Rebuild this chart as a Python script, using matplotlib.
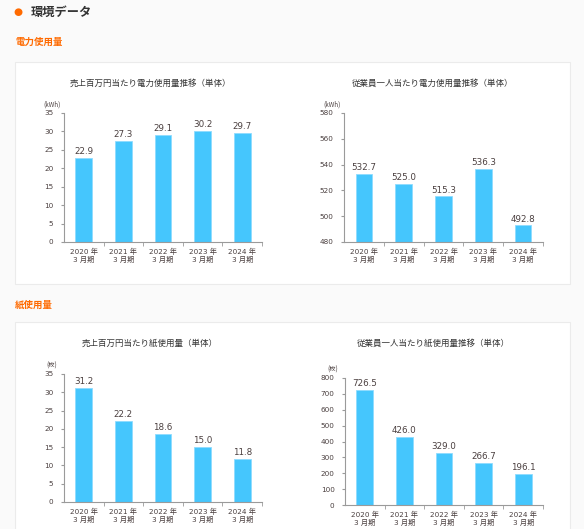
import matplotlib.pyplot as plt
from matplotlib.patches import Rectangle

plt.rcParams['font.family'] = ['Noto Sans CJK JP', 'DejaVu Sans']

W, H = 584, 529

years = ["2020 年\n3 月期", "2021 年\n3 月期", "2022 年\n3 月期", "2023 年\n3 月期", "2024 年\n3 月期"]

power_sales = [22.9, 27.3, 29.1, 30.2, 29.7]
power_staff = [532.7, 525.0, 515.3, 536.3, 492.8]
paper_sales = [31.2, 22.2, 18.6, 15.0, 11.8]
paper_staff = [726.5, 426.0, 329.0, 266.7, 196.1]

titles = ["売上百万円当たり電力使用量推移（単体）", "従業員一人当たり電力使用量推移（単体）",
          "売上百万円当たり紙使用量（単体）", "従業員一人当たり紙使用量推移（単体）"]
units = ["(kWh)", "(kWh)", "(枚)", "(枚)"]

bar_c = "#45c6fd"
txt_c = "#4a3f3f"
ax_c = "#9a9a9a"
num_font = ['DejaVu Sans', 'Noto Sans CJK JP']

fig = plt.figure(figsize=(W / 100, H / 100), dpi=100)
fig.patch.set_facecolor("#fafafa")


def box(x0, y0, x1, y1):
    # pixel coords (top-left origin) -> figure fraction
    return [x0 / W, 1 - y1 / H, (x1 - x0) / W, (y1 - y0) / H]


# white cards (behind the axes)
for (x0, y0, x1, y1) in [(15, 62, 570, 284), (15, 322, 570, 540)]:
    r = box(x0, y0, x1, y1)
    fig.add_artist(Rectangle((r[0], r[1]), r[2], r[3], transform=fig.transFigure,
                             facecolor="white", edgecolor="#ebebeb", lw=0.8,
                             zorder=-5))

# header
fig.text(18 / W, 1 - 12 / H, "●", fontsize=7.5, color="#ff6a00",
         ha="center", va="center", family="DejaVu Sans")
fig.text(31 / W, 1 - 12 / H, "環境データ", fontsize=8.8, fontweight="bold",
         color="#333333", va="center")
fig.text(15 / W, 1 - 42 / H, "電力使用量", fontsize=6.8, fontweight="bold",
         color="#ff6a00", va="center")
fig.text(15 / W, 1 - 305 / H, "紙使用量", fontsize=6.8, fontweight="bold",
         color="#ff6a00", va="center")


def chart(rect, vals, ylim, step, title, unit, title_y, title_x):
    ax = fig.add_axes(box(*rect))
    ax.patch.set_alpha(0)
    ax.bar(range(5), [v - ylim[0] for v in vals], bottom=ylim[0], width=0.42,
           color=bar_c, edgecolor="#8fdcff", lw=0.6)
    for i, v in enumerate(vals):
        ax.text(i, v + (ylim[1] - ylim[0]) * 0.015, f"{v:.1f}", ha="center",
                va="bottom", fontsize=6.3, color=txt_c, family=num_font)
    ax.set_xlim(-0.5, 4.5)
    ax.set_ylim(*ylim)
    ax.set_yticks(range(ylim[0], ylim[1] + 1, step))
    ax.set_xticks(range(5))
    ax.set_xticklabels(years, fontsize=5.2, color=txt_c, linespacing=1.15,
                       family=num_font)
    for lab in ax.get_yticklabels():
        lab.set_family(num_font)
    ax.set_xticks([0.5, 1.5, 2.5, 3.5, 4.5], minor=True)
    ax.tick_params(axis="x", which="major", length=0, pad=4)
    ax.tick_params(axis="x", which="minor", length=3, color=ax_c, direction="out")
    ax.tick_params(axis="y", length=2.5, color=ax_c, labelsize=5.2,
                   labelcolor=txt_c, pad=5)
    for s in ["top", "right"]:
        ax.spines[s].set_visible(False)
    for s in ["left", "bottom"]:
        ax.spines[s].set_color(ax_c)
        ax.spines[s].set_linewidth(0.8)
    fig.text(title_x / W, 1 - title_y / H, title, fontsize=6.1, color="#333333",
             ha="center", va="center")
    fig.text((rect[0] - 12) / W, 1 - (rect[1] - 8) / H, unit, fontsize=4.5,
             color=txt_c, ha="center", va="center")
    return ax


chart((64, 113, 262, 242), power_sales, (0, 35), 5, titles[0], units[0], 83, 150)
chart((344, 113, 543, 242), power_staff, (480, 580), 20, titles[1], units[1], 83, 433)
chart((64, 374, 262, 502), paper_sales, (0, 35), 5, titles[2], units[2], 343, 150)
chart((345, 378, 543, 505), paper_staff, (0, 800), 100, titles[3], units[3], 343, 433)

fig.savefig("out.png", dpi=100, facecolor=fig.get_facecolor())
